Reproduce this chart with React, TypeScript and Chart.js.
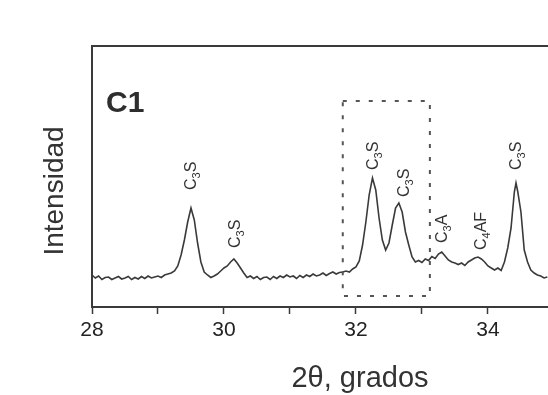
import React, { useEffect, useRef } from "react";
import { Chart, registerables } from "chart.js";

Chart.register(...registerables);

// 2θ (degrees)
const twoTheta = [
  28.0, 28.05, 28.1, 28.15, 28.2, 28.25, 28.3, 28.35, 28.4, 28.45,
  28.5, 28.55, 28.6, 28.65, 28.7, 28.75, 28.8, 28.85, 28.9, 28.95,
  29.0, 29.05, 29.1, 29.15, 29.2, 29.25, 29.3, 29.35, 29.4, 29.45,
  29.5, 29.55, 29.6, 29.65, 29.7, 29.75, 29.8, 29.85, 29.9, 29.95,
  30.0, 30.05, 30.1, 30.15, 30.2, 30.25, 30.3, 30.35, 30.4, 30.45,
  30.5, 30.55, 30.6, 30.65, 30.7, 30.75, 30.8, 30.85, 30.9, 30.95,
  31.0, 31.05, 31.1, 31.15, 31.2, 31.25, 31.3, 31.35, 31.4, 31.45,
  31.5, 31.55, 31.6, 31.65, 31.7, 31.75, 31.8, 31.85, 31.9, 31.95,
  32.0, 32.05, 32.1, 32.15, 32.2, 32.25, 32.3, 32.35, 32.4, 32.45,
  32.5, 32.55, 32.6, 32.65, 32.7, 32.75, 32.8, 32.85, 32.9, 32.95,
  33.0, 33.05, 33.1, 33.15, 33.2, 33.25, 33.3, 33.35, 33.4, 33.45,
  33.5, 33.55, 33.6, 33.65, 33.7, 33.75, 33.8, 33.85, 33.9, 33.95,
  34.0, 34.05, 34.1, 34.15, 34.2, 34.25, 34.3, 34.35, 34.4, 34.425, 34.45,
  34.5, 34.55, 34.6, 34.65, 34.7, 34.75, 34.8, 34.85, 34.9,
];

// Intensity (arbitrary units)
const intensity = [
  128, 116, 124, 110, 118, 120, 110, 116, 122, 112,
  116, 122, 110, 118, 112, 122, 114, 124, 116, 120,
  124, 118, 128, 132, 136, 144, 164, 208, 268, 340,
  396, 348, 256, 180, 140, 128, 118, 124, 132, 144,
  156, 164, 180, 192, 176, 156, 136, 118, 124, 114,
  122, 110, 118, 120, 110, 122, 114, 124, 118, 128,
  120, 124, 114, 126, 118, 128, 122, 132, 124, 128,
  136, 126, 134, 140, 132, 138, 140, 144, 140, 152,
  160, 184, 248, 340, 448, 516, 468, 356, 268, 228,
  256, 328, 396, 416, 380, 300, 248, 200, 180, 186,
  178, 192, 186, 202, 194, 212, 220, 204, 188, 180,
  176, 170, 176, 166, 180, 188, 196, 200, 192, 180,
  164, 156, 148, 156, 146, 180, 236, 316, 460, 496, 464,
  380, 228, 180, 148, 136, 128, 124, 116, 120,
];

const xTickValues = [28, 29, 30, 31, 32, 33, 34];
const xTickLabels = ["28", "", "30", "", "32", "", "34"];
const xMin = 28;
const xMax = 34.91;
const yMin = 0;
const yMax = 1044;

// Peak labels: main letter, subscript, rest, anchor 2θ, anchor intensity (text start)
const peakMain = ["C", "C", "C", "C", "C", "C", "C"];
const peakSub = ["3", "3", "3", "3", "3", "4", "3"];
const peakRest = ["S", "S", "S", "S", "A", "AF", "S"];
const peakX = [29.485, 30.15, 32.25, 32.71, 33.29, 33.88, 34.42];
const peakY = [468, 236, 548, 440, 256, 228, 548];

// Dotted box (2θ range, intensity range)
const boxX = [31.8, 33.12];
const boxY = [44, 824];

const panelLabel = "C1";
const xTitle = "2θ, grados";
const yTitle = "Intensidad";

const FONT = "'Liberation Sans', Arial, Helvetica, sans-serif";

const overlay = {
  id: "overlay",
  afterDraw(chart: any) {
    const { ctx, chartArea: a, scales } = chart;
    const x = scales.x;
    const y = scales.y;
    ctx.save();

    // frame: left and top
    ctx.strokeStyle = "#3a3a3a";
    ctx.lineWidth = 2;
    ctx.beginPath();
    ctx.moveTo(a.left, a.bottom);
    ctx.lineTo(a.left, a.top);
    ctx.lineTo(a.right + 2, a.top);
    ctx.stroke();

    // dotted box
    ctx.strokeStyle = "#555";
    ctx.lineWidth = 2;
    ctx.setLineDash([4, 9]);
    const bx0 = x.getPixelForValue(boxX[0]);
    const bx1 = x.getPixelForValue(boxX[1]);
    const by0 = y.getPixelForValue(boxY[1]);
    const by1 = y.getPixelForValue(boxY[0]);
    ctx.strokeRect(bx0, by0, bx1 - bx0, by1 - by0);
    ctx.setLineDash([]);

    // peak labels (rotated)
    ctx.fillStyle = "#333";
    ctx.textBaseline = "alphabetic";
    ctx.textAlign = "left";
    const fs = 16;
    const ss = 11;
    for (let i = 0; i < peakMain.length; i++) {
      const px = x.getPixelForValue(peakX[i]);
      const py = y.getPixelForValue(peakY[i]);
      ctx.save();
      ctx.translate(px + fs * 0.358, py);
      ctx.rotate(-Math.PI / 2);
      ctx.font = `${fs}px ${FONT}`;
      let cx = 0;
      ctx.fillText(peakMain[i], cx, 0);
      cx += ctx.measureText(peakMain[i]).width;
      ctx.font = `${ss}px ${FONT}`;
      ctx.fillText(peakSub[i], cx, 4);
      cx += ctx.measureText(peakSub[i]).width;
      ctx.font = `${fs}px ${FONT}`;
      ctx.fillText(peakRest[i], cx, 0);
      ctx.restore();
    }

    // panel label
    ctx.fillStyle = "#2e2e2e";
    ctx.font = `bold 30px ${FONT}`;
    ctx.textAlign = "left";
    ctx.fillText(panelLabel, a.left + 14, 112);

    // x title
    ctx.fillStyle = "#333";
    ctx.font = `29px ${FONT}`;
    ctx.textAlign = "center";
    ctx.fillText(xTitle, 360, 387);

    // y title
    ctx.save();
    ctx.translate(63, 191);
    ctx.rotate(-Math.PI / 2);
    ctx.font = `28px ${FONT}`;
    ctx.textAlign = "center";
    ctx.fillText(yTitle, 0, 0);
    ctx.restore();

    ctx.restore();
  },
};

export default function App() {
  const ref = useRef<HTMLCanvasElement | null>(null);

  useEffect(() => {
    if (!ref.current) return;
    Chart.defaults.font.family = FONT;
    const points = twoTheta.map((t, i) => ({ x: t, y: intensity[i] }));
    const chart = new Chart(ref.current, {
      type: "line",
      data: {
        datasets: [
          {
            data: points,
            borderColor: "#3a3a3a",
            borderWidth: 1.6,
            pointRadius: 0,
            tension: 0,
            fill: false,
          },
        ],
      },
      options: {
        responsive: false,
        animation: false,
        layout: { padding: { left: 92, top: 46, right: 0, bottom: 0 } },
        plugins: {
          legend: { display: false },
          tooltip: { enabled: false },
          title: { display: false },
        },
        scales: {
          x: {
            type: "linear",
            min: xMin,
            max: xMax,
            afterBuildTicks: (scale: any) => {
              scale.ticks = xTickValues.map((v) => ({ value: v }));
            },
            afterFit: (scale: any) => {
              scale.height = 88;
            },
            border: { display: true, color: "#3a3a3a", width: 2 },
            grid: {
              display: true,
              drawOnChartArea: false,
              drawTicks: true,
              tickLength: 7,
              tickColor: "#3a3a3a",
              tickWidth: 1.5,
            },
            ticks: {
              autoSkip: false,
              maxRotation: 0,
              padding: 4,
              color: "#222",
              font: { size: 21 },
              callback: (v: any) => {
                const idx = xTickValues.indexOf(Number(v));
                return idx >= 0 ? xTickLabels[idx] : "";
              },
            },
          },
          y: {
            display: false,
            min: yMin,
            max: yMax,
          },
        },
      },
      plugins: [overlay],
    });
    return () => chart.destroy();
  }, []);

  return (
    <div style={{ position: "absolute", left: 0, top: 0, width: 548, height: 395, background: "#fff" }}>
      <canvas ref={ref} width={548} height={395} style={{ display: "block" }} />
    </div>
  );
}
